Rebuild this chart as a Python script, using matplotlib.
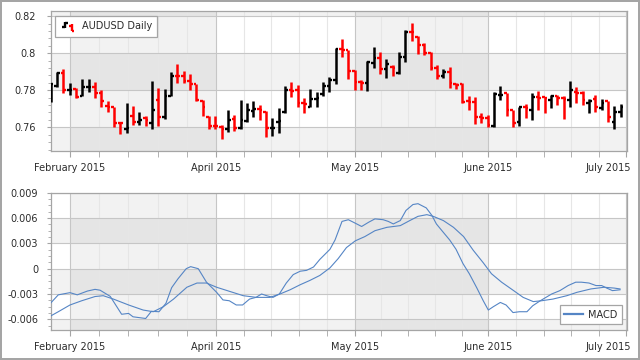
import matplotlib
matplotlib.use("Agg")
import matplotlib.pyplot as plt
import numpy as np
from matplotlib.lines import Line2D
from matplotlib.legend_handler import HandlerBase
from matplotlib.ticker import MultipleLocator, FixedLocator
from matplotlib.transforms import ScaledTranslation


# daily AUDUSD bars
opens = [
    .7748, .7823, .7895, .7802, .7805, .7769, .7816, .7816, .7787, .7714,
    .7708, .7625, .7590, .7661, .7631, .7649, .7622, .7748, .7654, .7769,
    .7877, .7877, .7852, .7834, .7744, .7658, .7607, .7604, .7589, .7643,
    .7595, .7636, .7690, .7697, .7685, .7595, .7631, .7685, .7802, .7802,
    .7730, .7712, .7751, .7780, .7823, .7856, .8022, .8018, .7906, .7847,
    .7841, .7946, .7973, .7914, .7928, .7892, .7982, .8117, .8090, .8045,
    .8000, .7919, .7877, .7901, .7834, .7834, .7744, .7739, .7654, .7649,
    .7607, .7775, .7784, .7694, .7631, .7708, .7694, .7762, .7762, .7748,
    .7769, .7757, .7748, .7793, .7784, .7733, .7751, .7703, .7744, .7631,
    .7685,
]
highs = [
    .7838, .7901, .7914, .7841, .7811, .7859, .7859, .7847, .7802, .7744,
    .7708, .7625, .7730, .7715, .7685, .7661, .7852, .7811, .7805, .7901,
    .7942, .7905, .7888, .7834, .7748, .7661, .7661, .7613, .7694, .7667,
    .7745, .7730, .7744, .7721, .7690, .7649, .7703, .7823, .7847, .7829,
    .7757, .7805, .7793, .7847, .7874, .8027, .8076, .8018, .7910, .7856,
    .7959, .8032, .8009, .7968, .7937, .8004, .8126, .8162, .8094, .8054,
    .8009, .7937, .7914, .7928, .7838, .7838, .7769, .7762, .7676, .7667,
    .7793, .7823, .7787, .7694, .7712, .7726, .7784, .7796, .7762, .7775,
    .7775, .7769, .7852, .7816, .7798, .7751, .7775, .7751, .7744, .7715,
    .7726,
]
lows = [
    .7739, .7820, .7784, .7775, .7757, .7769, .7793, .7757, .7708, .7685,
    .7604, .7562, .7571, .7613, .7613, .7607, .7589, .7607, .7643, .7769,
    .7838, .7838, .7802, .7744, .7661, .7589, .7589, .7535, .7577, .7582,
    .7589, .7631, .7658, .7640, .7550, .7553, .7571, .7676, .7762, .7708,
    .7679, .7712, .7712, .7769, .7793, .7834, .7978, .7859, .7802, .7802,
    .7798, .7919, .7888, .7865, .7877, .7888, .7950, .8068, .7996, .7991,
    .7910, .7859, .7865, .7811, .7805, .7733, .7694, .7618, .7625, .7600,
    .7604, .7748, .7661, .7600, .7607, .7649, .7640, .7694, .7676, .7703,
    .7721, .7643, .7712, .7733, .7721, .7679, .7685, .7694, .7631, .7589,
    .7658,
]
closes = [
    .7834, .7895, .7802, .7804, .7762, .7816, .7818, .7787, .7744, .7710,
    .7625, .7622, .7596, .7631, .7640, .7640, .7694, .7654, .7769, .7877,
    .7875, .7852, .7834, .7748, .7712, .7607, .7605, .7589, .7640, .7595,
    .7640, .7694, .7697, .7692, .7595, .7597, .7633, .7802, .7798, .7730,
    .7726, .7751, .7757, .7823, .7856, .8022, .8020, .7906, .7847, .7841,
    .7950, .7973, .7914, .7942, .7919, .7982, .8117, .8115, .8045, .8000,
    .7919, .7877, .7901, .7841, .7829, .7739, .7739, .7654, .7649, .7613,
    .7780, .7777, .7694, .7622, .7708, .7703, .7762, .7760, .7757, .7769,
    .7757, .7755, .7802, .7784, .7748, .7744, .7708, .7730, .7658, .7685,
    .7712,
]

# MACD panel: positions are bar numbers
macd_x = [0, 1.2, 3.05, 4.2, 5.8, 7.0, 7.8, 9.4, 11.2, 12.3, 13.0, 15.0, 15.9,
          17.1, 18.2, 19.1, 20.1, 21.4, 22.1, 23.3, 24.6, 26.2, 27.2, 28.2,
          29.3, 30.3, 31.4, 32.4, 33.3, 34.1, 35.1, 36.1, 37.2, 38.3, 39.4,
          40.4, 41.5, 42.5, 44.1, 44.9, 46.0, 47.0, 47.8, 49.1, 50.2, 51.2,
          52.5, 53.3, 54.1, 55.2, 56.1, 57.2, 58.0, 59.3, 60.2, 60.9, 62.0,
          63.0, 64.0, 65.1, 66.1, 67.3, 68.3, 69.1, 69.9, 71.0, 71.9, 73.0,
          74.0, 75.2, 76.1, 77.3, 79.1, 80.4, 81.7, 82.9, 83.8, 85.0, 86.1,
          87.0, 87.8, 88.7, 89.9]
macd_y = [-0.00407, -0.0031, -0.00284, -0.0031, -0.00265, -0.00245, -0.00255,
          -0.00328, -0.0054, -0.0053, -0.0057, -0.0059, -0.00505, -0.0051,
          -0.0041, -0.00225, -0.0012, 0.0, 0.00024, 0.0, -0.0016, -0.0028,
          -0.0037, -0.0038, -0.0043, -0.0043, -0.0036, -0.0034, -0.003,
          -0.0032, -0.0034, -0.003, -0.0017, -0.0007, -0.0003, -0.0002,
          0.0002, 0.0011, 0.0023, 0.0034, 0.0056, 0.0058, 0.0055, 0.005,
          0.0055, 0.0059, 0.0058, 0.0056, 0.0053, 0.0057, 0.0069, 0.0076,
          0.0077, 0.0072, 0.0063, 0.0053, 0.0043, 0.0034, 0.0023, 0.0006,
          -0.0006, -0.0023, -0.0038, -0.0049, -0.0045, -0.004, -0.0043,
          -0.0052, -0.0051, -0.0051, -0.0044, -0.0038, -0.003, -0.0026,
          -0.002, -0.0016, -0.0016, -0.0017, -0.002, -0.002, -0.0023,
          -0.0026, -0.0025]
signal_x = [0, 1.2, 3.05, 4.9, 7.0, 8.3, 9.9, 12.3, 14.6, 16.2, 17.8, 19.4,
            21.5, 23.1, 24.6, 26.2, 28.3, 30.4, 32.5, 34.6, 36.2, 37.8, 39.4,
            40.9, 42.5, 44.1, 45.4, 46.7, 48.1, 49.6, 51.2, 53.1, 55.2, 56.7,
            58.0, 59.4, 60.4, 62.0, 63.6, 65.2, 66.7, 68.3, 69.6, 71.2, 73.1,
            74.6, 76.2, 77.5, 79.3, 81.5, 83.1, 85.3, 87.4, 89.0, 89.9]
signal_y = [-0.0056, -0.0051, -0.0043, -0.0038, -0.0033, -0.0032, -0.0036,
            -0.0043, -0.0049, -0.0051, -0.0045, -0.0036, -0.0022, -0.0017,
            -0.0017, -0.0022, -0.0027, -0.0032, -0.0034, -0.0034, -0.003,
            -0.0025, -0.0019, -0.0014, -0.0008, 0.0001, 0.0012, 0.0025,
            0.0033, 0.0038, 0.0045, 0.0049, 0.0051, 0.0057, 0.0062, 0.0064,
            0.0062, 0.0057, 0.0049, 0.0038, 0.0022, 0.0007, -0.0006, -0.0016,
            -0.0026, -0.0034, -0.0039, -0.0038, -0.0036, -0.0032, -0.0028,
            -0.0024, -0.0022, -0.0023, -0.0024]

month_pos = [3.05, 26.1, 48.0, 69.1, 90.9]
month_labels = ["February 2015", "April 2015", "May 2015", "June 2015", "July 2015"]

UP = "#000000"
DOWN = "#ff0000"
LINE = "#5585c5"
TEXT = "#2b2b2b"
FRAME = "#a5a5a5"

plt.rcParams["font.family"] = ["DejaVu Sans"]
plt.rcParams["font.size"] = 7


class OHLCIcon(HandlerBase):
    def create_artists(self, legend, orig_handle, xdescent, ydescent,
                       width, height, fontsize, trans):
        x0, y0 = -xdescent, -ydescent
        t = width * 0.17
        arts = []
        for fx, lo, hi, op, cl, col in [(0.3, 0.2, 1.1, 0.3, 1.0, UP),
                                        (0.72, -0.3, 0.75, 0.45, -0.2, DOWN)]:
            x = x0 + fx * width
            kw = dict(color=col, lw=1.7, solid_capstyle="butt", transform=trans)
            arts.append(Line2D([x, x], [y0 + lo * height, y0 + hi * height], **kw))
            arts.append(Line2D([x - t, x], [y0 + op * height] * 2, **kw))
            arts.append(Line2D([x, x + t], [y0 + cl * height] * 2, **kw))
        return arts


def style_axis(ax, bands, ylim, major, minor, ypad):
    ax.set_xlim(0, 91.05)
    ax.set_ylim(*ylim)
    ax.set_facecolor("white")
    for a, b in zip(month_pos[0::2], month_pos[1::2]):
        ax.axvspan(a, b, color="black", alpha=0.05, lw=0, zorder=0)
    for a, b in bands:
        ax.axhspan(a, b, color="black", alpha=0.05, lw=0, zorder=0)

    minor_x = []
    for a, b in zip(month_pos[:-1], month_pos[1:]):
        minor_x.extend(np.linspace(a, b, 6)[1:-1])
    ax.xaxis.set_major_locator(FixedLocator(month_pos))
    ax.xaxis.set_minor_locator(FixedLocator(minor_x))
    ax.set_xticklabels(month_labels)
    ax.yaxis.set_major_locator(MultipleLocator(major))
    ax.yaxis.set_minor_locator(MultipleLocator(minor))

    ax.grid(which="major", axis="both", color="#c6c6c6", lw=0.8)
    ax.grid(which="minor", axis="x", color="#e6e6e6", lw=0.8)
    ax.set_axisbelow(True)

    ax.tick_params(axis="x", which="both", length=4, color=FRAME,
                   labelcolor=TEXT, pad=4.6)
    ax.tick_params(axis="y", which="major", length=3, color=FRAME,
                   labelcolor=TEXT, pad=ypad)
    ax.tick_params(axis="y", which="minor", length=2, color=FRAME)
    for s in ax.spines.values():
        s.set_color(FRAME)
        s.set_linewidth(0.9)

    last = ax.get_xticklabels()[-1]
    last.set_horizontalalignment("right")
    last.set_transform(last.get_transform() +
                       ScaledTranslation(0.05, 0, ax.figure.dpi_scale_trans))


fig = plt.figure(figsize=(6.4, 3.6), dpi=100)
fig.patch.set_facecolor("white")
fig.patch.set_edgecolor(FRAME)
fig.patch.set_linewidth(1.5)

ax1 = fig.add_axes([0.0792, 0.5806, 0.9010, 0.3888])
ax2 = fig.add_axes([0.0792, 0.0825, 0.9010, 0.3822])

# price panel
idx = np.arange(len(opens))
colors = [UP if c >= o else DOWN for o, c in zip(opens, closes)]
w = 0.42
ax1.vlines(idx, lows, highs, colors=colors, lw=1.8, zorder=3)
ax1.hlines(opens, idx - w, idx, colors=colors, lw=1.7, zorder=3)
ax1.hlines(closes, idx, idx + w, colors=colors, lw=1.7, zorder=3)
style_axis(ax1, [(0.74, 0.76), (0.78, 0.80), (0.82, 0.84)],
           (0.7472, 0.8228), 0.02, 0.004, 8)
ax1.set_yticklabels([f"{v:g}" for v in ax1.get_yticks()])

dummy = Line2D([], [], label="AUDUSD Daily")
leg1 = ax1.legend(handles=[dummy], handler_map={dummy: OHLCIcon()},
                  loc="upper left", bbox_to_anchor=(0.0075, 0.964),
                  borderaxespad=0, frameon=True, fancybox=False,
                  edgecolor=FRAME, framealpha=1, fontsize=7,
                  handlelength=1.6, handletextpad=0.6, borderpad=0.55,
                  labelcolor=TEXT)
leg1.get_frame().set_linewidth(0.9)

# MACD panel
ax2.plot(macd_x, macd_y, color=LINE, lw=0.8, zorder=3, label="MACD")
ax2.plot(signal_x, signal_y, color=LINE, lw=0.8, zorder=3)
style_axis(ax2, [(-0.009, -0.006), (-0.003, 0.0), (0.003, 0.006)],
           (-0.0073, 0.009), 0.003, 0.00075, 6)
ax2.set_yticklabels([f"{v:g}" if abs(v) > 1e-9 else "0" for v in ax2.get_yticks()])

leg2 = ax2.legend(handles=[Line2D([], [], color=LINE, lw=1.6, label="MACD")],
                  loc="lower right", bbox_to_anchor=(0.9908, 0.0458),
                  borderaxespad=0, frameon=True, fancybox=False,
                  edgecolor=FRAME, framealpha=1, fontsize=7,
                  handlelength=2.0, handletextpad=0.5, borderpad=0.45,
                  labelcolor=TEXT)
leg2.get_frame().set_linewidth(0.9)

fig.savefig("out.png", dpi=100)
